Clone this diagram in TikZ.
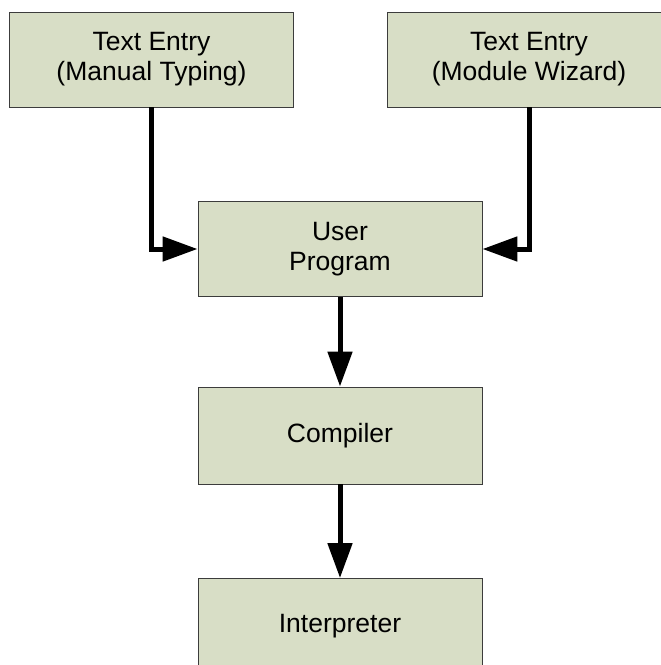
\documentclass[tikz,border=0pt]{standalone}
\usepackage{fontspec}
\setmainfont{Liberation Sans}
\usetikzlibrary{arrows.meta}
\definecolor{boxfill}{RGB}{216,222,198}
\definecolor{boxline}{RGB}{60,60,60}
\tikzset{
  procbox/.style={draw=boxline, line width=0.9pt, fill=boxfill, rectangle,
    minimum width=284pt, minimum height=95pt, inner sep=0pt, align=center,
    font=\fontsize{26.5}{30}\selectfont},
  flow/.style={line width=5pt, -{Triangle[length=35pt,width=24pt]}}
}
\begin{document}
\begin{tikzpicture}[x=1pt,y=-1pt]
\useasboundingbox (0,0) rectangle (661,665);
\clip (0,0) rectangle (661,665);
\node[procbox] (tl) at (151.5,59.5) {Text Entry\\(Manual Typing)};
\node[procbox] (tr) at (529,59.5) {Text Entry\\(Module Wizard)};
\node[procbox] (up) at (340,249) {User\\Program};
\node[procbox, minimum height=97pt] (comp) at (340,435.5) {Compiler};
\node[procbox] (interp) at (340,626) {Interpreter};
\draw[flow] (tl.south) |- (up.west);
\draw[flow] (tr.south) |- (up.east);
\draw[flow] (up.south) -- (comp.north);
\draw[flow] (comp.south) -- (interp.north);
\end{tikzpicture}
\end{document}
